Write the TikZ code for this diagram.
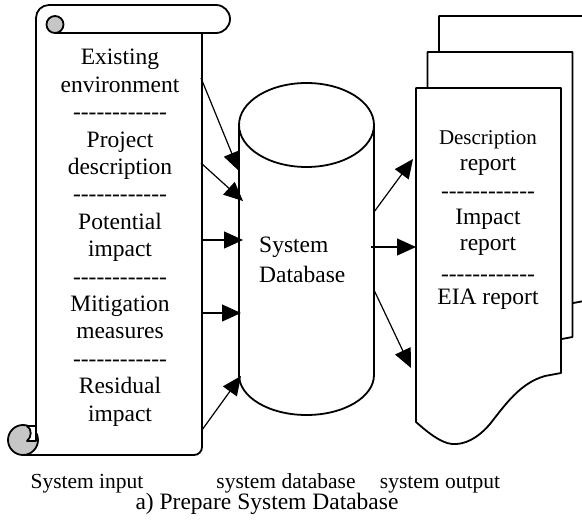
\documentclass[tikz,border=0pt]{standalone}
\usepackage{fontspec}
\newfontfamily\rmf{Liberation Serif}
\usetikzlibrary{arrows.meta}
\begin{document}
\begin{tikzpicture}[x=1pt,y=-1pt,
  outline/.style={line width=1.8pt, line join=round, line cap=round},
  flow/.style={line width=1.2pt, -{Triangle[length=19pt,width=17pt]}},
  lbl/.style={font=\rmf\fontsize{23.5}{26}\selectfont, inner sep=0pt, anchor=base},
  smalllbl/.style={lbl, font=\rmf\fontsize{21}{24}\selectfont},
  caplbl/.style={lbl, font=\rmf\fontsize{21.5}{24}\selectfont, text depth=3pt}]
\fill[white] (0,0) rectangle (582,524);
\useasboundingbox (0,0) rectangle (582,524);

% ---- output document stack
\foreach \dx/\dy in {23/-72, 11.5/-36, 0/0} {
  \begin{scope}[shift={(\dx,\dy)}]
    \draw[outline, fill=white] (416,88) -- (561,88) -- (561,373) -- (545,376)
      .. controls (520,383) and (505,405) .. (490,424)
      .. controls (478,438) and (465,445) .. (452,444)
      .. controls (440,443) and (425,430) .. (416,422) -- cycle;
  \end{scope}
}
\node[smalllbl] (o1) at (488,145) {Description};
\node[lbl] (o2) at (488,171) {report};
\node[lbl] (o3) at (488,199) {------------};
\node[lbl] (o4) at (488,225) {Impact};
\node[lbl] (o5) at (488,251) {report};
\node[lbl] (o6) at (488,282) {------------};
\node[lbl] (o7) at (488,305) {EIA report};

% ---- database cylinder
\draw[outline, fill=white] (239,125) -- (239,375)
  .. controls (239,397.1) and (269.2,415) .. (306.5,415)
  .. controls (343.8,415) and (374,397.1) .. (374,375) -- (374,125);
\draw[outline] (306.5,125) ellipse [x radius=67.5, y radius=42];
\node[lbl, anchor=base west] (db1) at (259,253) {System};
\node[lbl, anchor=base west] (db2) at (259,283) {Database};

% ---- input scroll
\draw[outline] (36,441) -- (36,18) .. controls (36,10.8) and (41.8,5) .. (49,5) -- (216,5)
  .. controls (223.7,5) and (230,11.3) .. (230,19)
  .. controls (230,26.7) and (223.7,33) .. (216,33) -- (55,33);
\draw[outline, fill=gray!45] (55,24.5) circle [radius=8.5];
\draw[outline] (202,33) -- (202,447) .. controls (202,451.4) and (198.4,455) .. (194,455) -- (23,455);
\draw[outline, fill=gray!45] (23,440) circle [radius=15];
\draw[outline, fill=white] (36,426) -- (27,426) .. controls (32,429) and (32,437) .. (27,441) -- (36,441) -- cycle;

\foreach \t/\yy [count=\i] in {
  Existing/65, environment/92.5, ------------/120,
  Project/147.2, description/174.7, ------------/202,
  Potential/229.4, impact/256.9, ------------/284.5,
  Mitigation/311.6, measures/339, ------------/366.5,
  Residual/393.8, impact/421.3} {
  \node[lbl] (s\i) at (120,\yy) {\t};
}

% ---- connector end points
\coordinate (a1) at (201,78);   \coordinate (b1) at (239,171);
\coordinate (a2) at (201,163);  \coordinate (b2) at (243,201);
\coordinate (a3) at (202,240);  \coordinate (b3) at (243,240);
\coordinate (a4) at (202,313);  \coordinate (b4) at (241,313);
\coordinate (a5) at (202,430);  \coordinate (b5) at (241,376);
\coordinate (c1) at (374,212);  \coordinate (d1) at (413,159);
\coordinate (c2) at (371,247);  \coordinate (d2) at (416,247);
\coordinate (c3) at (374,290);  \coordinate (d3) at (411,368);
\foreach \i in {1,...,5} { \draw[flow] (a\i) -- (b\i); }
\foreach \i in {1,2,3} { \draw[flow] (c\i) -- (d\i); }

% ---- labels
\node[caplbl] (l1) at (87,488) {System input};
\node[caplbl] (l2) at (286,488) {system database};
\node[caplbl] (l3) at (440,488) {system output};
\node[lbl, text height=16pt] (cap) at (267,509) {a) Prepare System Database};
\end{tikzpicture}
\end{document}
